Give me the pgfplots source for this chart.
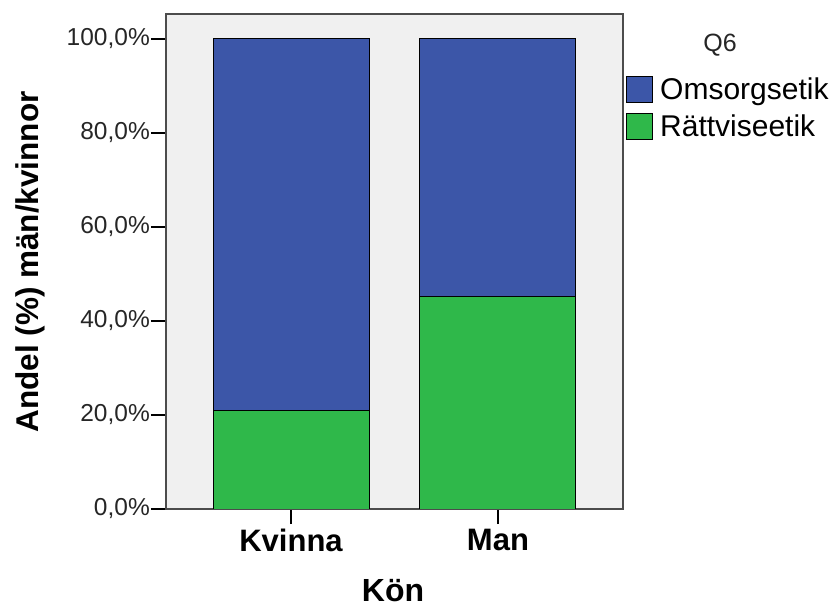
\documentclass[border=0pt]{standalone}
\usepackage{pgfplots}
\pgfplotsset{compat=1.18}
\usepackage{fontspec}
\setmainfont{Liberation Sans}
\definecolor{omsorg}{HTML}{3C56A8}
\definecolor{ratt}{HTML}{2FB84A}
\definecolor{bg}{HTML}{F0F0F0}

\begin{document}
\begin{tikzpicture}
\begin{axis}[
  scale only axis,
  width=457bp, height=495bp,
  ybar stacked,
  bar width=156bp,
  xmin=-0.604, xmax=1.604,
  ymin=0, ymax=105.3,
  xtick={0,1},
  xticklabels={Kvinna,Man},
  ytick={0,20,40,60,80,100},
  yticklabels={{0,0\%},{20,0\%},{40,0\%},{60,0\%},{80,0\%},{100,0\%}},
  xtick pos=bottom, ytick pos=left,
  tick align=outside,
  major tick length=15bp,
  tick style={black, line width=1.2bp},
  axis line style={draw=black!70, line width=1.3bp},
  axis background/.style={fill=bg},
  yticklabel style={font=\fontsize{24.5bp}{28bp}\selectfont, color=black!85, inner sep=1bp},
  xticklabel style={font=\bfseries\fontsize{31bp}{34bp}\selectfont, yshift=-2bp},
  reverse legend,
  legend style={at={(rel axis cs:1,0.88)}, anchor=north west, draw=none, fill=none,
    font=\fontsize{30bp}{33bp}\selectfont, row sep=10bp, xshift=0bp,
    nodes={inner xsep=7bp, inner ysep=0bp}},
  legend cell align=left,
  legend image code/.code={\draw[#1, draw=black, line width=1bp] (0bp,-13bp) rectangle (26bp,13bp);},
  every axis plot/.append style={draw=black, line width=1bp},
]
\addplot[fill=ratt] coordinates {(0,20.9) (1,45.1)};
\addplot[fill=omsorg] coordinates {(0,79.1) (1,54.9)};
\legend{Rättviseetik,Omsorgsetik}
\coordinate (O) at (rel axis cs:0,0);
\end{axis}
\node[font=\bfseries\fontsize{31.5bp}{34bp}\selectfont, rotate=90] at ([shift={(-136bp,247bp)}]O) {Andel (\%) män/kvinnor};
\node[font=\bfseries\fontsize{32bp}{35bp}\selectfont, inner sep=0bp] at ([shift={(227bp,-82bp)}]O) {Kön};
\node[font=\fontsize{25bp}{28bp}\selectfont, color=black!85] at ([shift={(554bp,464bp)}]O) {Q6};
\pgfresetboundingbox
\path[use as bounding box] ([shift={(-166bp,-101bp)}]O) rectangle ++(835bp,610bp);
\end{tikzpicture}
\end{document}
